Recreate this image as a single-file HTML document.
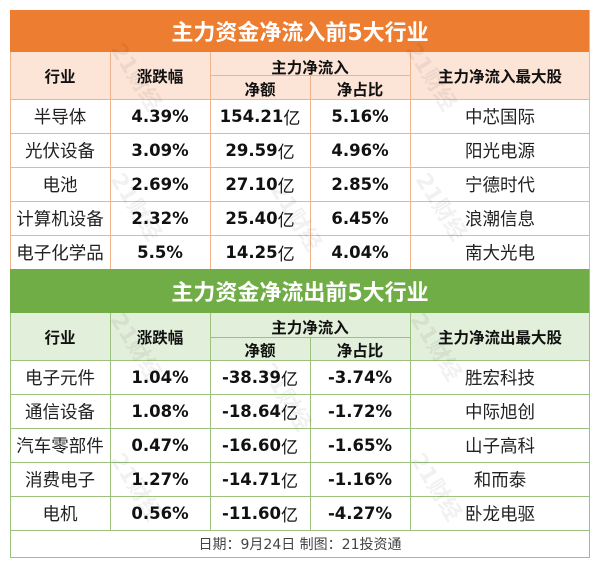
<!DOCTYPE html>
<html><head><meta charset="utf-8">
<style>
*{margin:0;padding:0;box-sizing:border-box}
body{width:600px;height:569px;background:#fff;position:relative;overflow:hidden;font-family:"Liberation Sans","Noto Sans CJK SC",sans-serif}
.c{position:absolute;display:flex;align-items:center;justify-content:center;white-space:nowrap}
.t{color:#fff;font-weight:bold;font-size:22px;font-family:"DejaVu Sans","Noto Sans CJK SC",sans-serif}
.h{font-weight:bold;font-size:15.5px;color:#111;font-family:"DejaVu Sans","Noto Sans CJK SC",sans-serif}
.z{font-size:17.5px;color:#222;font-family:"Noto Sans CJK SC",sans-serif}
.n{font-size:16.5px;font-weight:bold;color:#111;font-family:"DejaVu Sans","Noto Sans CJK SC",sans-serif}
.n span{font-weight:normal;font-family:"Noto Sans CJK SC",sans-serif;font-size:17px}
.l{position:absolute}
.wm{position:absolute;color:#000;opacity:0.05;font-weight:bold;font-size:22px;transform:rotate(58deg);font-family:"DejaVu Sans","Noto Sans CJK SC",sans-serif}
</style></head><body>
<!-- orange section -->
<div class="l" style="left:10px;top:10px;width:580px;height:42px;background:#ED7D31"></div>
<div class="l" style="left:10px;top:52px;width:580px;height:47px;background:#FCE4D6"></div>
<div class="c t" style="left:10px;top:10px;width:580px;height:42px">主力资金净流入前5大行业</div>
<!-- orange grid lines -->
<div class="l" style="left:10px;top:52px;width:1px;height:217px;background:#F0B48C"></div>
<div class="l" style="left:589px;top:10px;width:1px;height:259px;background:#F0B48C"></div>
<div class="l" style="left:110px;top:52px;width:1px;height:217px;background:#F0B48C"></div>
<div class="l" style="left:210px;top:52px;width:1px;height:217px;background:#F0B48C"></div>
<div class="l" style="left:310px;top:75px;width:1px;height:194px;background:#F0B48C"></div>
<div class="l" style="left:410px;top:52px;width:1px;height:217px;background:#F0B48C"></div>
<div class="l" style="left:210px;top:75px;width:200px;height:1px;background:#F0B48C"></div>
<div class="l" style="left:10px;top:99px;width:580px;height:1px;background:#F0B48C"></div>
<div class="l" style="left:10px;top:133px;width:580px;height:1px;background:#F0B48C"></div>
<div class="l" style="left:10px;top:167px;width:580px;height:1px;background:#F0B48C"></div>
<div class="l" style="left:10px;top:201px;width:580px;height:1px;background:#F0B48C"></div>
<div class="l" style="left:10px;top:235px;width:580px;height:1px;background:#F0B48C"></div>

<div class="c h" style="left:10px;top:52px;width:100px;height:47px">行业</div>
<div class="c h" style="left:110px;top:52px;width:100px;height:47px">涨跌幅</div>
<div class="c h" style="left:210px;top:55px;width:200px;height:23px">主力净流入</div>
<div class="c h" style="left:210px;top:77px;width:100px;height:23px">净额</div>
<div class="c h" style="left:310px;top:77px;width:100px;height:23px">净占比</div>
<div class="c h" style="left:410px;top:52px;width:180px;height:47px">主力净流入最大股</div>

<div class="c z" style="left:10px;top:99px;width:100px;height:34px">半导体</div>
<div class="c n" style="left:110px;top:99px;width:100px;height:34px">4.39%</div>
<div class="c n" style="left:210px;top:99px;width:100px;height:34px">154.21<span>亿</span></div>
<div class="c n" style="left:310px;top:99px;width:100px;height:34px">5.16%</div>
<div class="c z" style="left:410px;top:99px;width:180px;height:34px">中芯国际</div>

<div class="c z" style="left:10px;top:133px;width:100px;height:34px">光伏设备</div>
<div class="c n" style="left:110px;top:133px;width:100px;height:34px">3.09%</div>
<div class="c n" style="left:210px;top:133px;width:100px;height:34px">29.59<span>亿</span></div>
<div class="c n" style="left:310px;top:133px;width:100px;height:34px">4.96%</div>
<div class="c z" style="left:410px;top:133px;width:180px;height:34px">阳光电源</div>

<div class="c z" style="left:10px;top:167px;width:100px;height:34px">电池</div>
<div class="c n" style="left:110px;top:167px;width:100px;height:34px">2.69%</div>
<div class="c n" style="left:210px;top:167px;width:100px;height:34px">27.10<span>亿</span></div>
<div class="c n" style="left:310px;top:167px;width:100px;height:34px">2.85%</div>
<div class="c z" style="left:410px;top:167px;width:180px;height:34px">宁德时代</div>

<div class="c z" style="left:10px;top:201px;width:100px;height:34px">计算机设备</div>
<div class="c n" style="left:110px;top:201px;width:100px;height:34px">2.32%</div>
<div class="c n" style="left:210px;top:201px;width:100px;height:34px">25.40<span>亿</span></div>
<div class="c n" style="left:310px;top:201px;width:100px;height:34px">6.45%</div>
<div class="c z" style="left:410px;top:201px;width:180px;height:34px">浪潮信息</div>

<div class="c z" style="left:10px;top:235px;width:100px;height:34px">电子化学品</div>
<div class="c n" style="left:110px;top:235px;width:100px;height:34px">5.5%</div>
<div class="c n" style="left:210px;top:235px;width:100px;height:34px">14.25<span>亿</span></div>
<div class="c n" style="left:310px;top:235px;width:100px;height:34px">4.04%</div>
<div class="c z" style="left:410px;top:235px;width:180px;height:34px">南大光电</div>

<!-- green section -->
<div class="l" style="left:10px;top:269px;width:580px;height:44px;background:#70AD47"></div>
<div class="l" style="left:10px;top:313px;width:580px;height:47px;background:#E2EFDA"></div>
<div class="c t" style="left:10px;top:269px;width:580px;height:44px">主力资金净流出前5大行业</div>

<div class="l" style="left:10px;top:313px;width:1px;height:245px;background:#9CC07E"></div>
<div class="l" style="left:589px;top:269px;width:1px;height:289px;background:#9CC07E"></div>
<div class="l" style="left:110px;top:313px;width:1px;height:217px;background:#9CC07E"></div>
<div class="l" style="left:210px;top:313px;width:1px;height:217px;background:#9CC07E"></div>
<div class="l" style="left:310px;top:337px;width:1px;height:193px;background:#9CC07E"></div>
<div class="l" style="left:410px;top:313px;width:1px;height:217px;background:#9CC07E"></div>
<div class="l" style="left:210px;top:337px;width:200px;height:1px;background:#9CC07E"></div>
<div class="l" style="left:10px;top:360px;width:580px;height:1px;background:#9CC07E"></div>
<div class="l" style="left:10px;top:394px;width:580px;height:1px;background:#9CC07E"></div>
<div class="l" style="left:10px;top:428px;width:580px;height:1px;background:#9CC07E"></div>
<div class="l" style="left:10px;top:462px;width:580px;height:1px;background:#9CC07E"></div>
<div class="l" style="left:10px;top:496px;width:580px;height:1px;background:#9CC07E"></div>
<div class="l" style="left:10px;top:530px;width:580px;height:1px;background:#9CC07E"></div>
<div class="l" style="left:10px;top:557px;width:580px;height:1px;background:#9CC07E"></div>

<div class="c h" style="left:10px;top:313px;width:100px;height:47px">行业</div>
<div class="c h" style="left:110px;top:313px;width:100px;height:47px">涨跌幅</div>
<div class="c h" style="left:210px;top:315px;width:200px;height:23px">主力净流入</div>
<div class="c h" style="left:210px;top:338px;width:100px;height:23px">净额</div>
<div class="c h" style="left:310px;top:338px;width:100px;height:23px">净占比</div>
<div class="c h" style="left:410px;top:313px;width:180px;height:47px">主力净流出最大股</div>

<div class="c z" style="left:10px;top:360px;width:100px;height:34px">电子元件</div>
<div class="c n" style="left:110px;top:360px;width:100px;height:34px">1.04%</div>
<div class="c n" style="left:210px;top:360px;width:100px;height:34px">-38.39<span>亿</span></div>
<div class="c n" style="left:310px;top:360px;width:100px;height:34px">-3.74%</div>
<div class="c z" style="left:410px;top:360px;width:180px;height:34px">胜宏科技</div>

<div class="c z" style="left:10px;top:394px;width:100px;height:34px">通信设备</div>
<div class="c n" style="left:110px;top:394px;width:100px;height:34px">1.08%</div>
<div class="c n" style="left:210px;top:394px;width:100px;height:34px">-18.64<span>亿</span></div>
<div class="c n" style="left:310px;top:394px;width:100px;height:34px">-1.72%</div>
<div class="c z" style="left:410px;top:394px;width:180px;height:34px">中际旭创</div>

<div class="c z" style="left:10px;top:428px;width:100px;height:34px">汽车零部件</div>
<div class="c n" style="left:110px;top:428px;width:100px;height:34px">0.47%</div>
<div class="c n" style="left:210px;top:428px;width:100px;height:34px">-16.60<span>亿</span></div>
<div class="c n" style="left:310px;top:428px;width:100px;height:34px">-1.65%</div>
<div class="c z" style="left:410px;top:428px;width:180px;height:34px">山子高科</div>

<div class="c z" style="left:10px;top:462px;width:100px;height:34px">消费电子</div>
<div class="c n" style="left:110px;top:462px;width:100px;height:34px">1.27%</div>
<div class="c n" style="left:210px;top:462px;width:100px;height:34px">-14.71<span>亿</span></div>
<div class="c n" style="left:310px;top:462px;width:100px;height:34px">-1.16%</div>
<div class="c z" style="left:410px;top:462px;width:180px;height:34px">和而泰</div>

<div class="c z" style="left:10px;top:496px;width:100px;height:34px">电机</div>
<div class="c n" style="left:110px;top:496px;width:100px;height:34px">0.56%</div>
<div class="c n" style="left:210px;top:496px;width:100px;height:34px">-11.60<span>亿</span></div>
<div class="c n" style="left:310px;top:496px;width:100px;height:34px">-4.27%</div>
<div class="c z" style="left:410px;top:496px;width:180px;height:34px">卧龙电驱</div>

<div class="c" style="left:10px;top:531px;width:580px;height:26px;font-size:14px;color:#444;font-family:'DejaVu Sans','Noto Sans CJK SC',sans-serif">日期：9月24日 制图：21投资通</div>

<!-- watermarks -->
<div class="wm" style="left:100px;top:60px">21财经</div>
<div class="wm" style="left:395px;top:60px">21财经</div>
<div class="wm" style="left:260px;top:200px">21财经</div>
<div class="wm" style="left:100px;top:190px">21财经</div>
<div class="wm" style="left:405px;top:190px">21财经</div>
<div class="wm" style="left:100px;top:330px">21财经</div>
<div class="wm" style="left:400px;top:330px">21财经</div>
<div class="wm" style="left:250px;top:380px">21财经</div>
<div class="wm" style="left:100px;top:470px">21财经</div>
<div class="wm" style="left:400px;top:470px">21财经</div>
</body></html>
